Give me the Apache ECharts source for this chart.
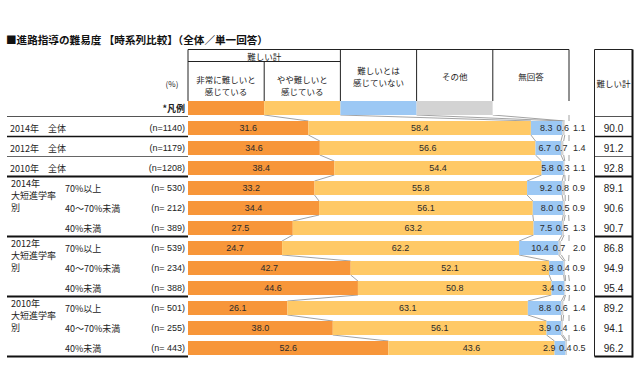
<!DOCTYPE html>
<html><head><meta charset="utf-8">
<script src="https://cdn.jsdelivr.net/npm/echarts@6/dist/echarts.min.js"></script>
<style>html,body{margin:0;padding:0;background:#fff}#c{width:640px;height:366px}</style>
</head><body><div id="c"></div>
<script>
// ---- data ----
const rowLabels = ['2014年　全体','2012年　全体','2010年　全体','70%以上','40～70%未満','40%未満','70%以上','40～70%未満','40%未満','70%以上','40～70%未満','40%未満'];
const nLabels = ['(n=1140)','(n=1179)','(n=1208)','(n= 530)','(n= 212)','(n= 389)','(n= 539)','(n= 234)','(n= 388)','(n= 501)','(n= 255)','(n= 443)'];
const groupLabels = ['2014年\n大短進学率\n別','2012年\n大短進学率\n別','2010年\n大短進学率\n別'];
const groupStartRow = [3, 6, 9];
const seriesNames = ['非常に難しいと感じている','やや難しいと感じている','難しいとは感じていない','その他','無回答'];
const headerLabels = ['非常に難しいと\n感じている','やや難しいと\n感じている','難しいとは\n感じていない','その他','無回答'];
const veryHard     = [31.6,34.6,38.4,33.2,34.4,27.5,24.7,42.7,44.6,26.1,38.0,52.6];
const somewhatHard = [58.4,56.6,54.4,55.8,56.1,63.2,62.2,52.1,50.8,63.1,56.1,43.6];
const notHard      = [8.3,6.7,5.8,9.2,8.0,7.5,10.4,3.8,3.4,8.8,3.9,2.9];
const other        = [0.6,0.7,0.3,0.8,0.5,0.5,0.7,0.4,0.3,0.6,0.4,0.4];
const noAnswer     = [1.1,1.4,1.1,0.9,0.9,1.3,2.0,0.9,1.0,1.4,1.6,0.5];
const hardTotal    = [90.0,91.2,92.8,89.1,90.6,90.7,86.8,94.9,95.4,89.2,94.1,96.2];
const legendShares = [20,20,20,20,20];
const legendRowLabel = '*凡例';
const titleText = '■進路指導の難易度 【時系列比較】（全体／単一回答）';
const groupHeader = '難しい計';
const totalHeader = '難しい計';
const unitText = '(%)';

// ---- build ----
const seriesVals = [veryHard, somewhatHard, notHard, other, noAnswer];
const colors = ['#F7963A', '#FFC966', '#9CC8F4', '#D3D3D3', '#FFFFFF'];
const nRows = rowLabels.length + 1; // + legend row
const catIds = Array.from({length: nRows}, (_, i) => 'r' + i);
const rowData = seriesVals.map((arr, k) => [legendShares[k]].concat(arr));
const cumRow = (i) => { let s = 0; return rowData.map(a => (s += a[i])); };

const G = {left: 188, top: 98, width: 381, height: 260};
const BAR_W = 14;
const numFont = "'Liberation Sans', 'Noto Sans CJK JP', sans-serif";
const jpFont = "'Noto Sans CJK JP', 'Liberation Sans', sans-serif";

const labelCfg = [
  {show: true, position: 'inside'},
  {show: true, position: 'inside'},
  {show: true, position: 'insideRight', distance: 10},
  {show: true, position: 'inside', offset: [-1, 0]},
  {show: true, position: 'right', distance: 4}
];

const series = seriesVals.map((arr, k) => ({
  name: seriesNames[k], type: 'bar', stack: 'all', barWidth: BAR_W,
  data: rowData[k],
  itemStyle: {color: colors[k]},
  emphasis: {disabled: true},
  label: Object.assign({
    color: '#2a2a2a', fontSize: 9, fontFamily: numFont,
    formatter: p => p.dataIndex === 0 ? '' : Number(p.value).toFixed(1)
  }, labelCfg[k]),
  z: 3
}));

series.push({
  type: 'custom', name: 'connectors', silent: true, z: 2,
  data: Array.from({length: nRows - 1}, (_, i) => [0, i]),
  encode: {x: 0, y: 1},
  renderItem: (params, api) => {
    const i = params.dataIndex;
    const a = cumRow(i), b = cumRow(i + 1);
    return {
      type: 'group',
      children: a.map((v, k) => {
        const p1 = api.coord([v, i]);
        const p2 = api.coord([b[k], i + 1]);
        return {type: 'line', shape: {x1: p1[0], y1: p1[1] + BAR_W / 2, x2: p2[0], y2: p2[1] - BAR_W / 2},
                style: {stroke: '#8c8c8c', lineWidth: 0.8}};
      })
    };
  }
});

const leftLabel = (v, idx) => {
  if (idx === 0) return '{a|}{b|' + legendRowLabel + '}';
  const r = idx - 1;
  if (r < 3) return '{w|' + rowLabels[r] + '}{n|' + nLabels[r] + '}';
  return '{g|}{s|' + rowLabels[r] + '}{n|' + nLabels[r] + '}';
};

const chart = echarts.init(document.getElementById('c'), null, {renderer: 'svg'});
const option = {
  animation: false,
  backgroundColor: '#fff',
  grid: {left: G.left, top: G.top, width: G.width, height: G.height, containLabel: false},
  xAxis: {type: 'value', min: 0, max: 100, show: false},
  yAxis: [
    {type: 'category', data: catIds, inverse: true,
     axisLine: {show: false}, axisTick: {show: false}, splitLine: {show: false},
     axisLabel: {align: 'left', margin: 178, formatter: leftLabel, color: '#222',
       rich: {
         a: {width: 130, fontSize: 9, fontFamily: jpFont},
         b: {width: 45, align: 'right', fontSize: 9, fontWeight: 'bold', fontFamily: jpFont, color: '#222'},
         w: {width: 130, fontSize: 9, fontFamily: jpFont, color: '#222'},
         g: {width: 55, fontSize: 9},
         s: {width: 75, fontSize: 9, fontFamily: jpFont, color: '#222'},
         n: {width: 45, align: 'right', fontSize: 9, fontFamily: numFont, color: '#222'}
       }}},
    {type: 'category', data: catIds, inverse: true, position: 'right',
     axisLine: {show: false}, axisTick: {show: false}, splitLine: {show: false},
     axisLabel: {align: 'center', margin: 44.5, fontSize: 10, fontFamily: numFont, color: '#222',
       formatter: (v, idx) => idx === 0 ? '' : hardTotal[idx - 1].toFixed(1)}}
  ],
  series: series
};
chart.setOption(option);

// ---- table frame / headers ----
const px = v => chart.convertToPixel({xAxisIndex: 0}, v);
const band = G.height / nRows;
const bandTop = i => G.top + band * i;
const cols = [0, 20, 40, 60, 80, 100].map(px);
const line = (x1, y1, x2, y2, w, c) => ({type: 'line', silent: true, z: 10,
  shape: {x1, y1, x2, y2}, style: {stroke: c || '#222', lineWidth: w || 1}});
const text = (t, x, y, o) => ({type: 'text', silent: true, z: 10,
  style: Object.assign({text: t, x, y, fill: '#222', fontSize: 8.5, fontFamily: jpFont,
    align: 'center', verticalAlign: 'middle', lineHeight: 12}, o || {})});

const g = [];
const hTop = 49.5, hMid = 61.5, hBot = 101;
g.push(text(titleText, 6, 39, {align: 'left', fontSize: 10.6, fontWeight: 'bold', fill: '#111'}));
g.push(line(cols[0], hTop, cols[5], hTop, 1));
g.push(line(cols[0], hMid, cols[2], hMid, 1));
[0, 2, 3, 4, 5].forEach(k => g.push(line(cols[k], hTop, cols[k], hBot, 1)));
g.push(line(cols[1], hMid, cols[1], hBot, 1));
g.push(text(groupHeader, (cols[0] + cols[2]) / 2, 56));
headerLabels.forEach((t, k) => {
  g.push(text(t, (cols[k] + cols[k + 1]) / 2, k < 2 ? 84.5 : 76));
});
g.push(text(unitText, 172, 83, {fontSize: 8}));

// left table horizontal lines
const rowLines = [
  [1, 1, '#555'], [2, 1.5, '#111'], [3, 1, '#666'], [4, 2, '#111'],
  [7, 2, '#111'], [10, 2, '#111'], [13, 2, '#111']
];
rowLines.forEach(([i, w, c]) => {
  const y = bandTop(i) - 1.5;
  g.push(line(7, y, G.left, y, w, c));
});
// right total box
const bx1 = 594.5, bx2 = 632.5;
g.push(line(bx1, hTop, bx2, hTop, 1));
rowLines.forEach(([i, w, c]) => {
  const y = bandTop(i) - 1.5;
  g.push(line(bx1, y, bx2, y, w, c));
});
g.push(line(bx1, hTop, bx1, bandTop(13) - 1.5, 1));
g.push(line(bx2, hTop, bx2, bandTop(13) - 0.5, 2, '#111'));
g.push(text(totalHeader, (bx1 + bx2) / 2, 83));

// group labels
groupStartRow.forEach((r, k) => {
  g.push(text(groupLabels[k], 11, bandTop(r + 1) - 1, {align: 'left', verticalAlign: 'top', fontSize: 9}));
});

chart.setOption({graphic: {elements: g}});
</script>
</body></html>
